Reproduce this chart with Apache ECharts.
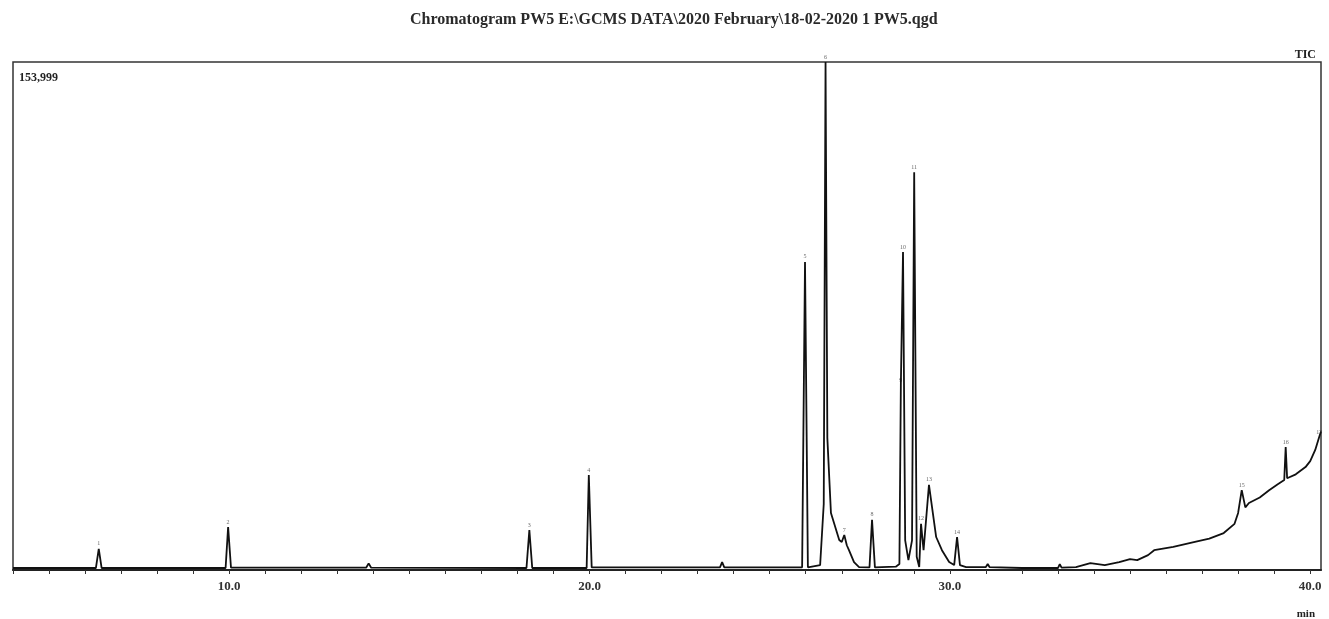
<!DOCTYPE html>
<html>
<head>
<meta charset="utf-8">
<script src="https://cdn.jsdelivr.net/npm/echarts@6/dist/echarts.min.js"></script>
<style>
	html, body { margin: 0; padding: 0; background: #fff; }
	#chart { width: 1329px; height: 619px; }
</style>
</head>
<body>
<div id="chart"></div>
<script>
	// retention time (min) and intensity
	var times = [
		4.0, 6.3, 6.38, 6.46, 9.9, 9.97, 10.05, 13.8, 13.87, 13.94,
		18.25, 18.33, 18.41, 19.92, 19.98, 20.06, 23.62, 23.68, 23.74, 25.9,
		25.98, 26.06, 26.4, 26.5, 26.55, 26.6, 26.7, 26.93, 27.0, 27.07,
		27.14, 27.2, 27.34, 27.48, 27.77, 27.84, 27.92, 28.5, 28.6, 28.64,
		28.7, 28.76, 28.85, 28.95, 29.01, 29.08, 29.15, 29.2, 29.27, 29.42,
		29.62, 29.78, 29.98, 30.12, 30.2, 30.28, 30.45, 31.0, 31.05, 31.1,
		32.0, 33.0, 33.05, 33.1, 33.5, 33.9, 34.3, 34.7, 35.0, 35.2,
		35.5, 35.67, 36.2, 36.8, 37.2, 37.6, 37.9, 38.0, 38.1, 38.2,
		38.3, 38.6, 38.86, 39.1, 39.28, 39.32, 39.36, 39.6, 39.87, 40.0,
		40.14, 40.25, 40.3
	];
	var intensity = [
		600, 600, 6400, 600, 600, 13000, 700, 700, 2000, 700,
		600, 12100, 600, 600, 28800, 800, 800, 2400, 800, 800,
		93400, 800, 1500, 20000, 153999, 40000, 17300, 9100, 8500, 10600,
		7500, 6000, 2400, 900, 800, 15200, 800, 1000, 1800, 56000,
		96400, 9000, 3000, 9000, 120600, 4000, 900, 14000, 6000, 25800,
		10000, 6000, 2400, 1500, 10000, 1500, 900, 900, 1800, 900,
		600, 600, 1800, 700, 900, 2100, 1500, 2400, 3300, 3000,
		4500, 6000, 7000, 8500, 9500, 11200, 14000, 17300, 24200, 19000,
		20300, 22000, 24200, 26000, 27300, 37300, 27800, 29000, 31200, 33000,
		36400, 40300, 42000
	];
	// peak numbers and where they sit
	var peakTimes = [6.38, 9.97, 18.33, 19.98, 25.98, 26.55, 27.07, 27.84, 28.64, 28.7,
		29.01, 29.2, 29.42, 30.2, 38.1, 39.32, 40.25];
	var peakValues = [6400, 13000, 12100, 28800, 93400, 153999, 10600, 15200, 56000, 96400,
		120600, 14000, 25800, 10000, 24200, 37300, 40300];
	var titleText = 'Chromatogram PW5 E:\\GCMS DATA\\2020 February\\18-02-2020 1 PW5.qgd';
	var maxText = '153,999';

	var trace = times.map(function(t, i) { return [t, intensity[i]]; });
	var peaks = peakTimes.map(function(t, i) { return [t, peakValues[i], String(i + 1)]; });

	var chart = echarts.init(document.getElementById('chart'));
	var serif = '"Liberation Serif", "DejaVu Serif", serif';
	chart.setOption({
		animation: false,
		textStyle: { fontFamily: serif },
		title: [{
			text: titleText,
			left: 405,
			top: 7,
			textStyle: { fontFamily: serif, fontSize: 16, fontWeight: 'bold', color: '#2a2a2a' }
		}, {
			text: maxText,
			left: 14,
			top: 67,
			textStyle: { fontFamily: serif, fontSize: 12, fontWeight: 'bold', color: '#222' }
		}, {
			text: 'TIC',
			right: 8,
			top: 44,
			textStyle: { fontFamily: serif, fontSize: 12, fontWeight: 'bold', color: '#222' }
		}, {
			text: 'min',
			right: 9,
			top: 604,
			textStyle: { fontFamily: serif, fontSize: 11, fontWeight: 'bold', color: '#222' }
		}],
		grid: {
			left: 13,
			right: 8,
			top: 62,
			bottom: 49,
			show: true,
			borderColor: '#333',
			borderWidth: 1.5
		},
		xAxis: {
			type: 'value',
			min: 4,
			max: 40.3,
			interval: 1,
			axisLine: { lineStyle: { color: '#222', width: 2 } },
			axisTick: { length: 4, lineStyle: { color: '#333' } },
			splitLine: { show: false },
			axisLabel: {
				margin: 10,
				fontFamily: serif,
				fontSize: 13,
				fontWeight: 'bold',
				color: '#333',
				showMaxLabel: false,
				formatter: function(v) { return v % 10 === 0 ? v.toFixed(1) : ''; }
			}
		},
		yAxis: {
			type: 'value',
			min: 0,
			max: 153999,
			show: false
		},
		series: [{
			name: 'TIC',
			type: 'line',
			data: trace,
			symbol: 'none',
			clip: true,
			lineStyle: { color: '#111', width: 1.8 }
		}, {
			name: 'peaks',
			type: 'scatter',
			data: peaks,
			symbolSize: 0,
			label: {
				show: true,
				position: 'top',
				distance: 2,
				fontSize: 6,
				color: '#444',
				formatter: function(p) { return p.value[2]; }
			}
		}]
	});
</script>
</body>
</html>
